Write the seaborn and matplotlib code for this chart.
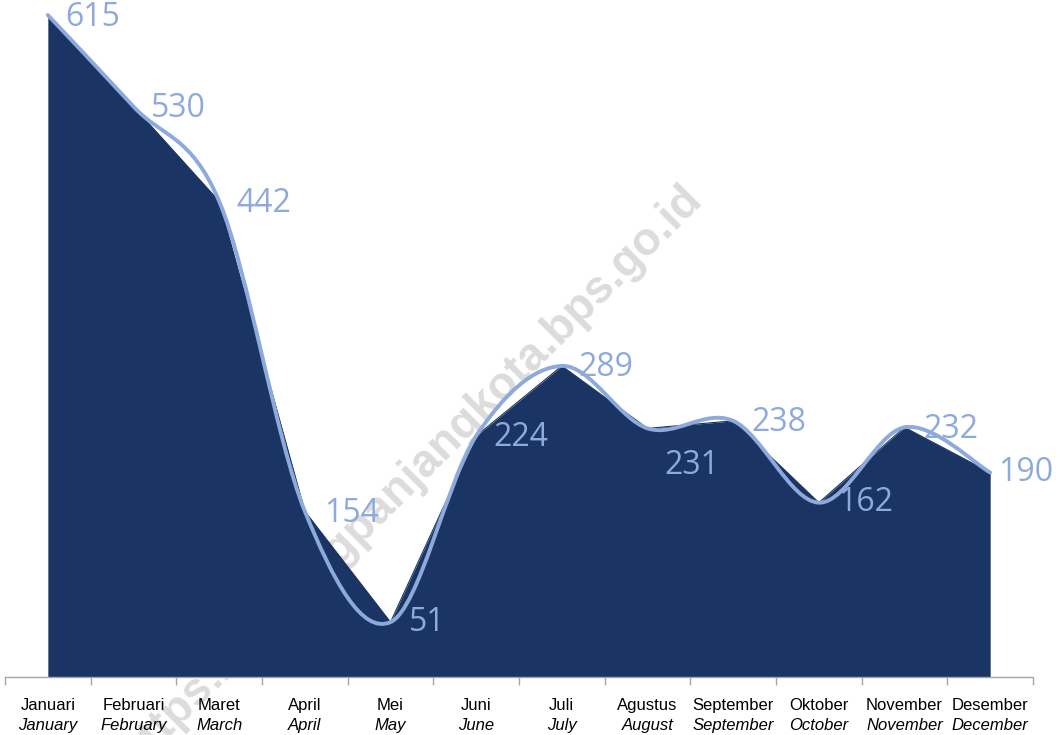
import numpy as np
import pandas as pd
import matplotlib.pyplot as plt
import seaborn as sns
from matplotlib.path import Path
from matplotlib.patches import PathPatch
from matplotlib.transforms import blended_transform_factory

# Data
bulan = ["Januari", "Februari", "Maret", "April", "Mei", "Juni", "Juli",
         "Agustus", "September", "Oktober", "November", "Desember"]
months = ["January", "February", "March", "April", "May", "June", "July",
          "August", "September", "October", "November", "December"]
nilai = [615, 530, 442, 154, 51, 224, 289, 231, 238, 162, 232, 190]

# label offsets (pixels) - style only
label_dx = [17, 17, 17, 19, 18, 17, 17, 17, 18, 19, 19, 8]
label_dy = [-2, -2, -2, -2, 0, -2, -2, -37, -2, 0, -2, 0]

NAVY = "#1a3563"
LIGHT = "#8eaadc"

sns.set_style("white")

fig = plt.figure(figsize=(10.61, 7.35), dpi=100)
ax = fig.add_axes([5 / 1061, 58 / 735, 1028 / 1061, 677 / 735])

df = pd.DataFrame({"pos": np.arange(len(nilai)), "nilai": nilai})

# area (linear)
ax.fill_between(df["pos"], 0, df["nilai"], color=NAVY, lw=0, zorder=2)
sns.lineplot(data=df, x="pos", y="nilai", color=NAVY, lw=0.8, ax=ax, zorder=2)

# smoothed line (Catmull-Rom style bezier through the points)
pts = df[["pos", "nilai"]].to_numpy(dtype=float)
ext = np.vstack([pts[0], pts, pts[-1]])
verts = [tuple(pts[0])]
codes = [Path.MOVETO]
for i in range(1, len(ext) - 2):
    p0, p1, p2, p3 = ext[i - 1], ext[i], ext[i + 1], ext[i + 2]
    c1 = p1 + (p2 - p0) / 6
    c2 = p2 - (p3 - p1) / 6
    verts += [tuple(c1), tuple(c2), tuple(p2)]
    codes += [Path.CURVE4] * 3
ax.add_patch(PathPatch(Path(verts, codes), fill=False, edgecolor=LIGHT,
                       lw=2.8, capstyle="round", joinstyle="round", zorder=3))

# value labels
for i, v in enumerate(nilai):
    ax.annotate(str(v), (i, v), xytext=(label_dx[i], label_dy[i]),
                textcoords="offset pixels", ha="left", va="center",
                fontsize=23, color=LIGHT, family="Open Sans", zorder=5,
                annotation_clip=False)

# axes styling
ax.set_xlim(-0.5, 11.5)
ax.set_ylim(0, 629)
ax.patch.set_visible(False)
for s in ["left", "right", "top"]:
    ax.spines[s].set_visible(False)
ax.spines["bottom"].set_color("#a6a6a6")
ax.spines["bottom"].set_linewidth(1.0)
ax.set_xticks(np.arange(-0.5, 12, 1))
ax.set_xticklabels([])
ax.tick_params(axis="x", direction="out", length=6, width=1, color="#a6a6a6", bottom=True)
ax.set_yticks([])
ax.set_xlabel("")
ax.set_ylabel("")

# month labels (two lines)
tr = blended_transform_factory(ax.transData, fig.transFigure)
fam = ["Liberation Sans Narrow", "Liberation Sans", "DejaVu Sans"]
for i, (b, m) in enumerate(zip(bulan, months)):
    ax.text(i, 25 / 735, b, transform=tr, ha="center", va="baseline",
            fontsize=12, family=fam, color="black", clip_on=False)
    ax.text(i, 5 / 735, m, transform=tr, ha="center", va="baseline",
            fontsize=12, style="italic", family=fam,
            color="black", clip_on=False)

# watermark
ax.text(411 / 1061, 1 - 476 / 735, "https://padangpanjangkota.bps.go.id",
        transform=fig.transFigure, rotation=45, rotation_mode="anchor",
        ha="center", va="center", fontsize=33, fontweight="bold",
        family="Liberation Sans", color="#dcdcdc", zorder=1, clip_on=False)

fig.savefig("out.png", dpi=100)
